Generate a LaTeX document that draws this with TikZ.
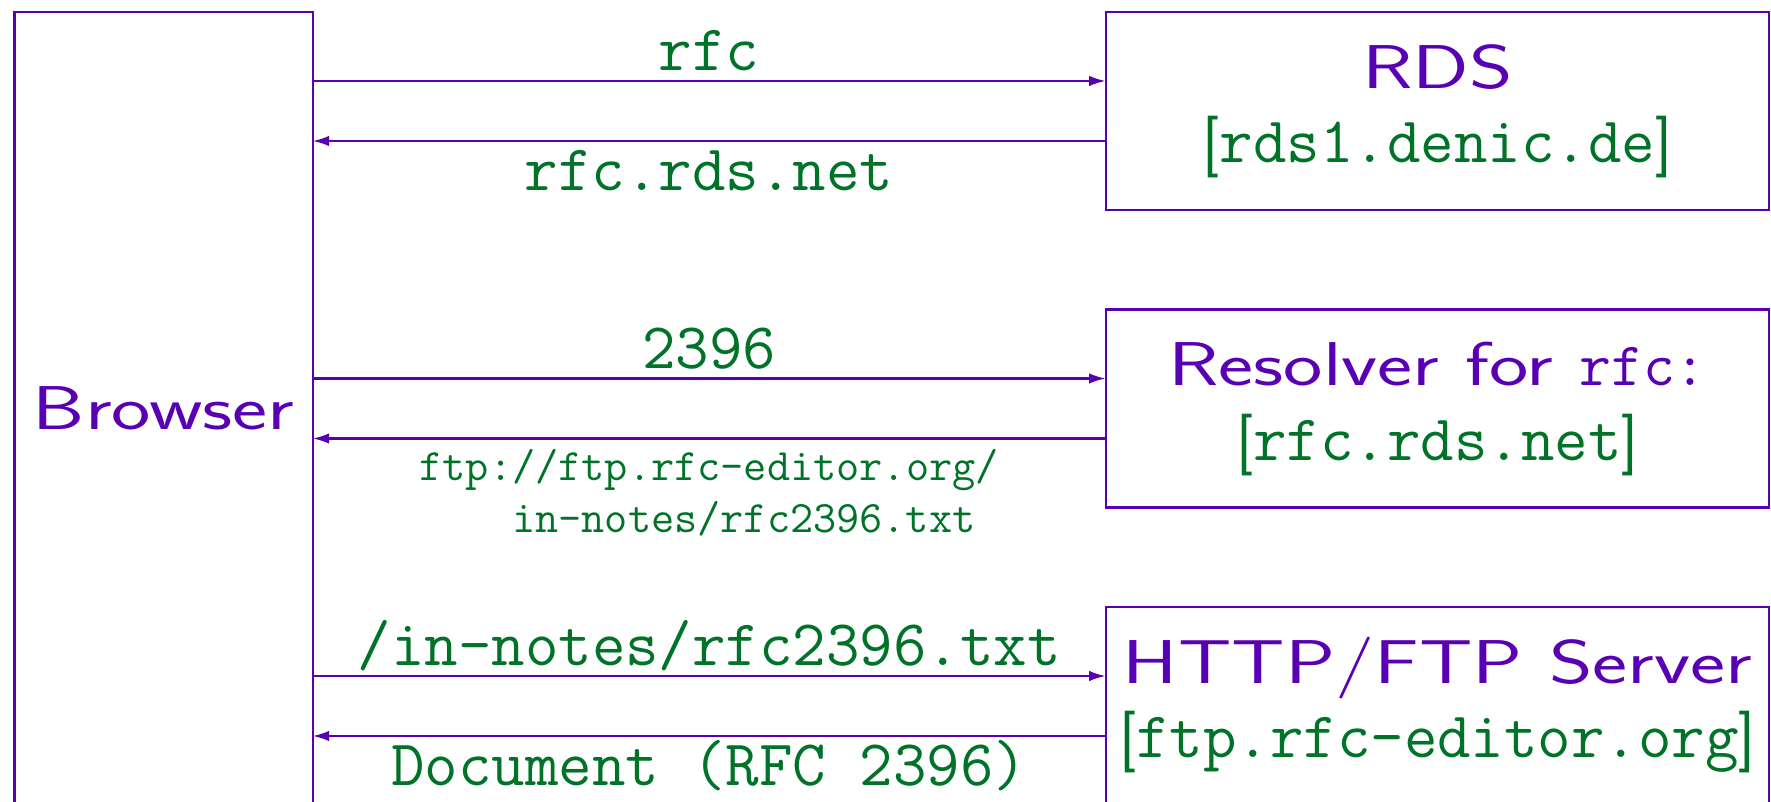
\documentclass[tikz,border=0pt]{standalone}
\usepackage{graphicx}
\usetikzlibrary{arrows.meta, calc}
\definecolor{mypurple}{RGB}{90,0,180}
\definecolor{mygreen}{RGB}{0,115,40}
\newcommand{\widesf}[1]{\scalebox{1.35}[1]{#1}}
\newcommand{\openbr}{{\fontsize{17.6}{21}\selectfont\sffamily[}}
\newcommand{\closebr}{{\fontsize{17.6}{21}\selectfont\sffamily]}}
\tikzstyle{host} = [draw=mypurple, line width=0.6pt, inner sep=0, outer sep=0,
    minimum width=6.638cm, minimum height=1.98cm]
\tikzstyle{title} = [inner sep=0, anchor=base, text=mypurple,
    font=\fontsize{17.6}{21}\selectfont\sffamily]
\tikzstyle{addr} = [inner sep=0, anchor=base, text=mygreen,
    font=\fontsize{18.5}{21}\selectfont\ttfamily]
\tikzstyle{msg} = [draw=mypurple, line width=0.6pt,
    -{Latex[length=4.7pt,width=3pt]}]
\tikzstyle{msgtop} = [midway, anchor=base, yshift=1mm, inner sep=0,
    text=mygreen, font=\fontsize{18.5}{21}\selectfont\ttfamily]
\tikzstyle{msgbot} = [midway, anchor=base, yshift=-5mm, inner sep=0,
    text=mygreen, font=\fontsize{18.5}{21}\selectfont\ttfamily]
\begin{document}
\begin{tikzpicture}
\clip (0,0) rectangle (17.71,8.02);
\useasboundingbox (0,0) rectangle (17.71,8.02);

% Browser on the left
\node[host, minimum width=2.982cm, minimum height=7.93cm, text=mypurple,
    font=\fontsize{17.6}{21}\selectfont\sffamily] (browser) at (1.636,3.935) {\widesf{Browser}};

% Servers on the right
\node[host] (rds) at (14.375,6.91) {};
\node[host] (resolver) at (14.375,3.935) {};
\node[host] (server) at (14.375,0.96) {};

%%% RDS
\node[title] (rdsname) at ([yshift=-7.65mm]rds.north) {\widesf{RDS}};
\node[addr] (rdsaddr) at ([yshift=-15.1mm]rds.north) {\openbr rds1.denic.de\closebr};

%%% RESOLVER
\node[title] (resname) at ([yshift=-7.65mm]resolver.north) {\widesf{Resolver for\ }\texttt{rfc:}};
\node[addr] (resaddr) at ([yshift=-15.1mm]resolver.north) {\openbr rfc.rds.net\closebr};

%%% SERVER
\node[title] (srvname) at ([yshift=-7.65mm]server.north) {\widesf{HTTP/FTP Server}};
\node[addr] (srvaddr) at ([yshift=-15.1mm]server.north) {\openbr ftp.rfc-editor.org\closebr};

% Requests and answers
\draw[msg] ([yshift=3mm]rds.west -| browser.east) -- node[msgtop] {rfc} ([yshift=3mm]rds.west);
\draw[msg] ([yshift=-3mm]rds.west) -- node[msgbot] {rfc.rds.net} ([yshift=-3mm]rds.west -| browser.east);

\draw[msg] ([yshift=3mm]resolver.west -| browser.east) -- node[msgtop] {2396} ([yshift=3mm]resolver.west);
\draw[msg] ([yshift=-3mm]resolver.west) -- node[msgbot, yshift=-4.44mm, align=left,
    font=\fontsize{12.8}{14.8}\selectfont\ttfamily]
    {ftp://ftp.rfc-editor.org/\\\hphantom{ftp:}in-notes/rfc2396.txt} ([yshift=-3mm]resolver.west -| browser.east);

\draw[msg] ([yshift=3mm]server.west -| browser.east) -- node[msgtop] {/in-notes/rfc2396.txt} ([yshift=3mm]server.west);
\draw[msg] ([yshift=-3mm]server.west) -- node[msgbot] {Document (RFC 2396)} ([yshift=-3mm]server.west -| browser.east);

\end{tikzpicture}
\end{document}
